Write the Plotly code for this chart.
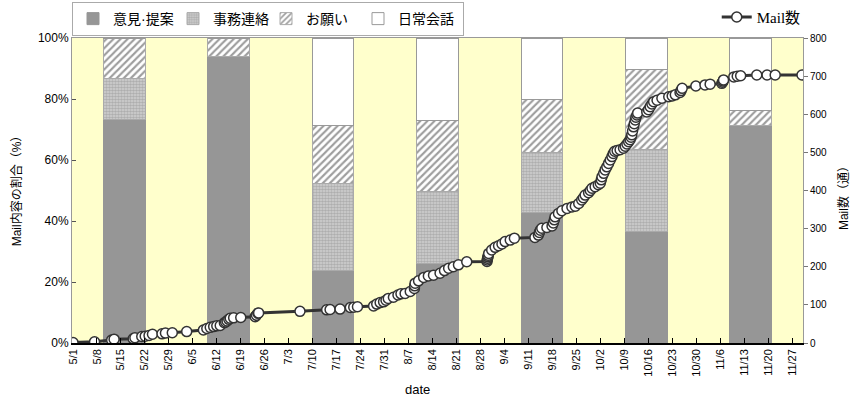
import plotly.graph_objects as go

# ---- bar data (percent of mail content per month) ----
months = ["5月", "6月", "7月", "8月", "9月", "10月", "11月"]
iken = [73.3, 93.8, 23.8, 26.1, 42.7, 36.7, 71.2]      # 意見・提案
jimu = [13.3, 0.0, 28.6, 23.7, 19.7, 26.8, 0.0]        # 事務連絡
onegai = [13.4, 6.2, 19.0, 23.0, 17.6, 26.3, 4.9]      # お願い
nichijo = [0.0, 0.0, 28.6, 27.2, 20.0, 10.2, 23.9]     # 日常会話

# ---- cumulative mail count ----
mail_dates = [
    "2009-05-01 00:00", "2009-05-07 07:00", "2009-05-12 07:00", "2009-05-13 00:00",
    "2009-05-18 14:00", "2009-05-19 02:00", "2009-05-21 02:00", "2009-05-22 02:00",
    "2009-05-23 05:00", "2009-05-24 05:00", "2009-05-27 00:00", "2009-05-28 00:00",
    "2009-05-30 00:00", "2009-06-03 05:00", "2009-06-08 02:00", "2009-06-09 02:00",
    "2009-06-10 02:00", "2009-06-11 02:00", "2009-06-12 00:00", "2009-06-13 00:00",
    "2009-06-14 05:00", "2009-06-14 14:00", "2009-06-15 00:00", "2009-06-15 12:00",
    "2009-06-15 22:00", "2009-06-16 22:00", "2009-06-19 00:00", "2009-06-23 05:00",
    "2009-06-23 14:00", "2009-06-24 00:00", "2009-06-24 05:00", "2009-07-06 07:00",
    "2009-07-14 02:00", "2009-07-15 02:00", "2009-07-18 00:00", "2009-07-21 00:00",
    "2009-07-22 00:00", "2009-07-23 02:00", "2009-07-27 19:00", "2009-07-28 17:00",
    "2009-07-29 17:00", "2009-07-30 17:00", "2009-07-31 10:00", "2009-08-01 02:00",
    "2009-08-02 14:00", "2009-08-03 22:00", "2009-08-04 19:00", "2009-08-06 00:00",
    "2009-08-07 12:00", "2009-08-08 17:00", "2009-08-08 19:00", "2009-08-08 22:00",
    "2009-08-09 22:00", "2009-08-11 10:00", "2009-08-12 19:00", "2009-08-14 07:00",
    "2009-08-16 05:00", "2009-08-17 12:00", "2009-08-18 17:00", "2009-08-20 02:00",
    "2009-08-21 14:00", "2009-08-24 00:00", "2009-08-29 22:00", "2009-08-30 00:00",
    "2009-08-30 02:00", "2009-08-30 05:00", "2009-08-30 07:00", "2009-08-30 10:00",
    "2009-08-31 07:00", "2009-09-01 07:00", "2009-09-02 07:00", "2009-09-03 07:00",
    "2009-09-04 05:00", "2009-09-05 17:00", "2009-09-06 22:00", "2009-09-12 22:00",
    "2009-09-13 22:00", "2009-09-14 05:00", "2009-09-14 12:00", "2009-09-14 22:00",
    "2009-09-16 10:00", "2009-09-17 22:00", "2009-09-18 07:00", "2009-09-18 14:00",
    "2009-09-18 19:00", "2009-09-19 19:00", "2009-09-20 19:00", "2009-09-22 07:00",
    "2009-09-23 17:00", "2009-09-24 17:00", "2009-09-25 17:00", "2009-09-26 14:00",
    "2009-09-27 02:00", "2009-09-27 14:00", "2009-09-28 14:00", "2009-09-29 02:00",
    "2009-09-29 14:00", "2009-09-30 12:00", "2009-10-01 10:00", "2009-10-02 00:00",
    "2009-10-02 07:00", "2009-10-02 12:00", "2009-10-03 00:00", "2009-10-03 10:00",
    "2009-10-03 22:00", "2009-10-04 10:00", "2009-10-04 22:00", "2009-10-05 10:00",
    "2009-10-05 19:00", "2009-10-06 05:00", "2009-10-06 22:00", "2009-10-07 19:00",
    "2009-10-08 19:00", "2009-10-09 07:00", "2009-10-09 19:00", "2009-10-10 07:00",
    "2009-10-10 17:00", "2009-10-11 00:00", "2009-10-11 05:00", "2009-10-11 10:00",
    "2009-10-11 17:00", "2009-10-11 22:00", "2009-10-12 05:00", "2009-10-12 10:00",
    "2009-10-12 17:00", "2009-10-12 22:00", "2009-10-15 14:00", "2009-10-16 02:00",
    "2009-10-16 14:00", "2009-10-17 02:00", "2009-10-17 14:00", "2009-10-18 14:00",
    "2009-10-20 00:00", "2009-10-22 00:00", "2009-10-23 00:00", "2009-10-23 22:00",
    "2009-10-25 07:00", "2009-10-25 14:00", "2009-10-25 22:00", "2009-10-29 22:00",
    "2009-11-01 14:00", "2009-11-03 02:00", "2009-11-06 12:00", "2009-11-06 17:00",
    "2009-11-06 22:00", "2009-11-07 00:00", "2009-11-10 00:00", "2009-11-11 00:00",
    "2009-11-12 00:00", "2009-11-16 17:00", "2009-11-19 17:00", "2009-11-22 02:00",
    "2009-11-29 22:00",
]
mail_counts = [
    1, 3, 8, 10,
    11, 14, 17, 18,
    20, 23, 24, 26,
    27, 30, 34, 38,
    41, 43, 45, 46,
    53, 55, 58, 62,
    65, 66, 67, 69,
    73, 78, 79, 83,
    87, 88, 89, 93,
    94, 95, 97, 102,
    106, 108, 112, 117,
    120, 126, 129, 130,
    135, 143, 150, 157,
    163, 172, 176, 178,
    183, 190, 196, 200,
    205, 213, 214, 218,
    222, 226, 230, 235,
    244, 251, 255, 260,
    266, 270, 275, 277,
    283, 290, 296, 301,
    303, 307, 315, 323,
    331, 340, 347, 353,
    357, 359, 366, 375,
    381, 388, 394, 400,
    406, 410, 415, 419,
    428, 436, 445, 454,
    462, 471, 480, 489,
    497, 503, 505, 507,
    511, 516, 522, 528,
    533, 540, 546, 556,
    567, 575, 585, 592,
    598, 603, 606, 612,
    620, 627, 633, 637,
    642, 646, 648, 651,
    657, 662, 668, 674,
    677, 679, 681, 684,
    687, 690, 698, 700,
    701, 703, 703, 703,
    703,
]

# ---- axis ticks ----
pct_ticks = [0, 20, 40, 60, 80, 100]
pct_labels = ["0%", "20%", "40%", "60%", "80%", "100%"]
count_ticks = [0, 100, 200, 300, 400, 500, 600, 700, 800]

FONT = "Liberation Sans, Noto Sans CJK JP, sans-serif"

fig = go.Figure()

fig.add_bar(x=months, y=iken, name="意見·提案", xaxis="x", yaxis="y", legend="legend",
            legendwidth=55,
            marker=dict(color="#969696", line=dict(color="#969696", width=1)))
fig.add_bar(x=months, y=jimu, name="事務連絡", xaxis="x", yaxis="y", legend="legend",
            legendwidth=48,
            marker=dict(color="#c4c4c4",
                        pattern=dict(shape=".", fgcolor="#8a8a8a", bgcolor="#d2d2d2",
                                     size=3, solidity=0.6),
                        line=dict(color="#aaaaaa", width=1)))
fig.add_bar(x=months, y=onegai, name="お願い", xaxis="x", yaxis="y", legend="legend",
            legendwidth=47,
            marker=dict(color="white",
                        pattern=dict(shape="/", fgcolor="#3c3c3c", bgcolor="white",
                                     size=5, solidity=0.42),
                        line=dict(color="#aaaaaa", width=1)))
fig.add_bar(x=months, y=nichijo, name="日常会話", xaxis="x", yaxis="y", legend="legend",
            legendwidth=60,
            marker=dict(color="white", line=dict(color="#999999", width=1)))

fig.add_trace(go.Scatter(
    x=mail_dates, y=mail_counts, name="Mail数", mode="lines+markers",
    xaxis="x2", yaxis="y2", legend="legend2",
    line=dict(color="#333333", width=3),
    marker=dict(size=10, color="white", line=dict(color="#333333", width=1.5)),
))

fig.update_layout(
    width=858, height=398,
    margin=dict(l=72, r=55, t=38, b=55, autoexpand=False),
    paper_bgcolor="white", plot_bgcolor="#FFFFCC",
    font=dict(family=FONT, size=12, color="black"),
    barmode="stack", bargap=0.6,
    showlegend=True,
    xaxis=dict(type="category", range=[-0.5, 6.5], showticklabels=False, ticks="",
               showline=True, linecolor="#999999", mirror=True, showgrid=False,
               zeroline=False),
    yaxis=dict(range=[0, 100], tickvals=pct_ticks, ticktext=pct_labels, ticks="inside",
               ticklen=4, tickcolor="#555555", showline=True, linecolor="#999999",
               showgrid=False, zeroline=False, tickfont=dict(size=12)),
    xaxis2=dict(type="date", overlaying="x", side="bottom",
                range=["2009-04-30 17:00", "2009-11-30 05:00"],
                tick0="2009-05-01", dtick=7 * 86400000, tickformat="%-m/%-d",
                tickangle=-90, ticks="inside", ticklen=5, tickcolor="black",
                showline=True, linecolor="black", linewidth=1.5,
                showgrid=False, zeroline=False, tickfont=dict(size=11)),
    yaxis2=dict(overlaying="y", side="right", range=[0, 800], tickvals=count_ticks,
                ticks="outside", ticklen=4, tickcolor="#777777", showline=True,
                linecolor="#999999", showgrid=False, zeroline=False,
                tickfont=dict(size=10)),
    legend=dict(orientation="h", x=0, y=1.118, xanchor="left", yanchor="top",
                bordercolor="#aaaaaa", borderwidth=1, bgcolor="white",
                traceorder="normal", font=dict(size=14, family=FONT)),
    legend2=dict(orientation="h", x=0.882, y=1.122, xanchor="left", yanchor="top",
                 bgcolor="rgba(0,0,0,0)", borderwidth=0,
                 font=dict(size=15, family="Liberation Serif, Noto Sans CJK JP, serif")),
    annotations=[
        dict(text="Mail内容の割合（%）", x=-0.074, y=0.51, xref="paper", yref="paper",
             xanchor="center", yanchor="middle",
             textangle=-90, showarrow=False, font=dict(size=12)),
        dict(text="Mail数（通）", x=1.0547, y=0.485, xref="paper", yref="paper",
             xanchor="center", yanchor="middle",
             textangle=-90, showarrow=False, font=dict(size=12)),
        dict(text="date", x=0.473, y=-0.152, xref="paper", yref="paper",
             xanchor="center", yanchor="middle",
             showarrow=False, font=dict(size=13)),
    ],
)

fig.write_html("out.html")
